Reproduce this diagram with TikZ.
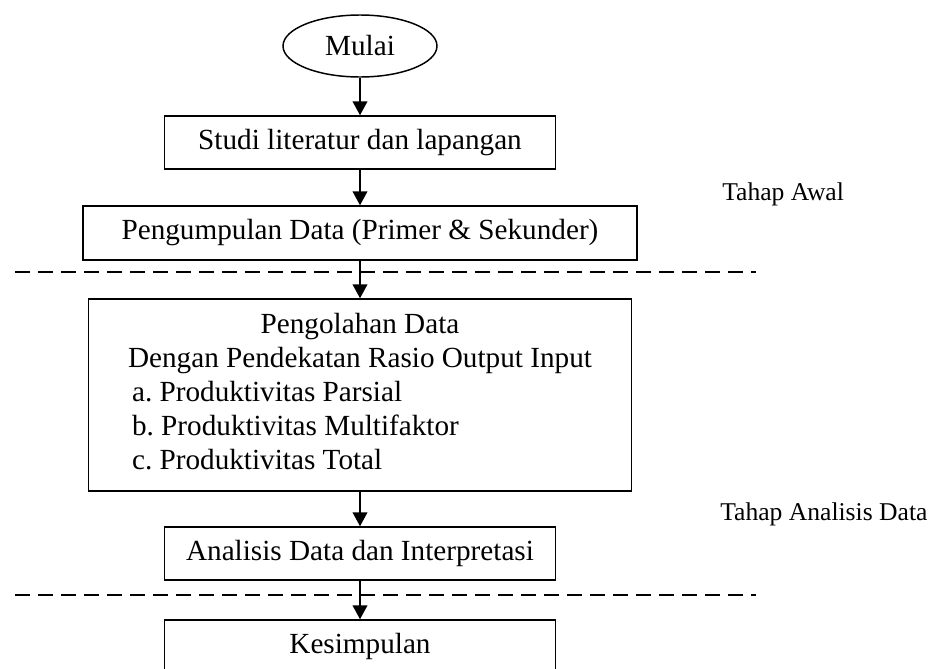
\documentclass[tikz,border=0pt]{standalone}
\usepackage{fontspec}
\setmainfont{Liberation Serif}
\usetikzlibrary{shapes.geometric,arrows.meta}
\begin{document}
\begin{tikzpicture}[x=0.75pt, y=-0.75pt,
	box/.style={draw, line width=1.1pt, inner sep=0pt, font=\fontsize{21.9}{25.5}\selectfont},
	arr/.style={line width=1.5pt, -{Triangle[length=10.5pt, width=11pt]}},
	sep/.style={line width=1.5pt, dash pattern=on 11.25pt off 6pt},
	lbl/.style={anchor=base west, inner sep=0pt, font=\fontsize{19.2}{23}\selectfont}]
	\path[use as bounding box, clip] (0,0) rectangle (946,668);
	\node[box, ellipse, minimum width=115.5pt, minimum height=46.5pt] (mulai) at (360,46) {Mulai};
	\node[box, minimum width=293.25pt, minimum height=39.75pt] (studi) at (360,142.5) {Studi literatur dan lapangan};
	\node[box, minimum width=415.5pt, minimum height=40.5pt] (kumpul) at (360,233) {Pengumpulan Data (Primer \& Sekunder)};
	\node[box, minimum width=407.25pt, minimum height=144pt] (olah) at (360,395) {\begin{tabular}{@{}l@{}}
		\multicolumn{1}{@{}c@{}}{Pengolahan Data}\\
		Dengan Pendekatan Rasio Output Input\\
		\hspace{3pt}a.\ Produktivitas Parsial\\
		\hspace{3pt}b.\ Produktivitas Multifaktor\\
		\hspace{3pt}c.\ Produktivitas Total
	\end{tabular}};
	\node[box, minimum width=293.25pt, minimum height=39.75pt] (analisis) at (360,553.5) {Analisis Data dan Interpretasi};
	\node[box, minimum width=293.25pt, minimum height=39.75pt] (simpul) at (360,646.5) {Kesimpulan};
	% pemisah tahap
	\draw[sep] (15,271.5) -- (756,271.5);
	\draw[sep] (15,595) -- (756,595);
	\node[lbl] (awal) at (722,200) {Tahap Awal};
	\node[lbl] (tahapanalisis) at (720,520) {Tahap Analisis Data};
	\draw[arr] (mulai) -- (studi);
	\draw[arr] (studi) -- (kumpul);
	\draw[arr] (kumpul) -- (olah);
	\draw[arr] (olah) -- (analisis);
	\draw[arr] (analisis) -- (simpul);
\end{tikzpicture}
\end{document}
